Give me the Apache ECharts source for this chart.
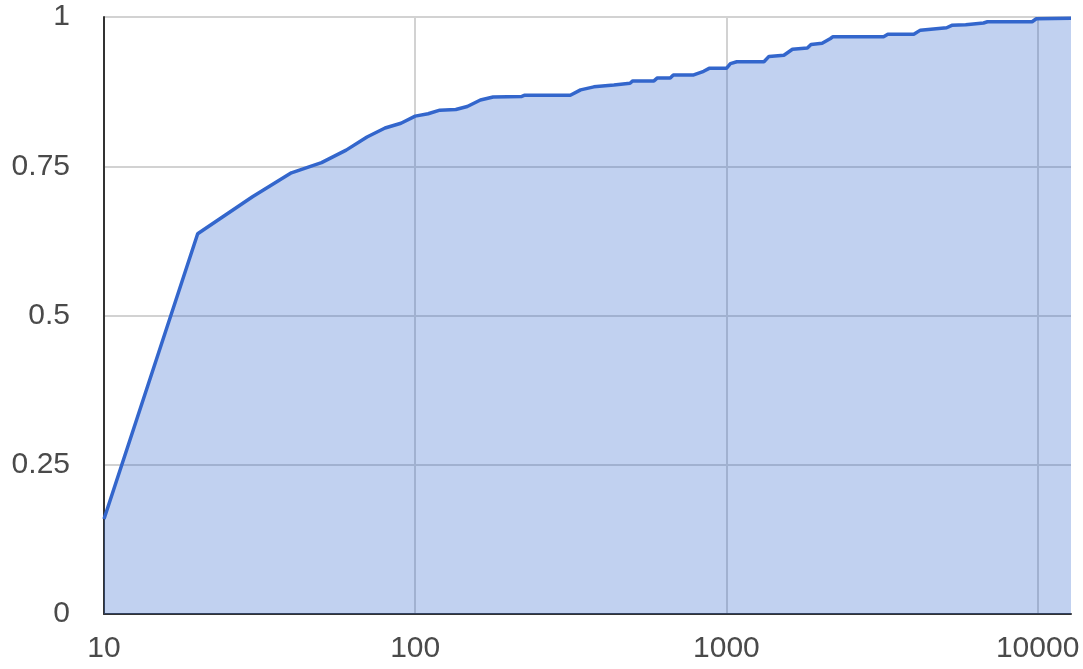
<!DOCTYPE html>
<html>
<head>
<meta charset="utf-8">
<script src="https://cdn.jsdelivr.net/npm/echarts@6/dist/echarts.min.js"></script>
<style>
  html, body { margin: 0; padding: 0; background: #fff; }
  #chart { width: 1083px; height: 669px; }
</style>
</head>
<body>
<div id="chart"></div>
<script>
// Data (cumulative share vs. value, log x)
var xValues = [10, 20, 30, 40, 50, 60, 70, 80, 90, 100,
  110, 120, 135, 147, 162, 178, 220, 225, 315, 340,
  375, 435, 490, 500, 585, 600, 660, 675, 785, 845,
  880, 1000, 1030, 1080, 1320, 1370, 1530, 1630, 1820, 1870,
  2030, 2160, 2200, 3200, 3300, 4000, 4200, 5100, 5300, 5870,
  5950, 6700, 6900, 9600, 9900, 12800];
var yValues = [0.159, 0.637, 0.699, 0.739, 0.756, 0.777, 0.799, 0.814, 0.822, 0.834,
  0.838, 0.844, 0.845, 0.850, 0.861, 0.866, 0.867, 0.869, 0.869, 0.878,
  0.883, 0.886, 0.889, 0.893, 0.893, 0.898, 0.898, 0.903, 0.903, 0.909,
  0.914, 0.914, 0.922, 0.925, 0.925, 0.934, 0.936, 0.946, 0.948, 0.954,
  0.956, 0.964, 0.967, 0.967, 0.971, 0.971, 0.978, 0.982, 0.986, 0.987,
  0.990, 0.990, 0.992, 0.992, 0.997, 0.998];
var xTickLabels = [10, 100, 1000, 10000];
var yTickLabels = [0, 0.25, 0.5, 0.75, 1];

var points = xValues.map(function (x, i) { return [x, yValues[i]]; });

var chart = echarts.init(document.getElementById('chart'), null, { renderer: 'canvas' });
var labelFont = { fontFamily: 'Liberation Sans, Arial, sans-serif', fontSize: 30, color: '#4a4a4a' };

chart.setOption({
  animation: false,
  backgroundColor: '#ffffff',
  grid: { left: 104, right: 12, top: 17, bottom: 55, containLabel: false },
  xAxis: {
    type: 'log',
    logBase: 10,
    min: 10,
    max: 12800,
    axisLine: { show: true, onZero: false, lineStyle: { color: '#333', width: 2 } },
    axisTick: { show: false },
    axisLabel: Object.assign({
      margin: 20,
      showMaxLabel: false,
      formatter: function (v) {
        var r = Math.round(v);
        return xTickLabels.indexOf(r) >= 0 ? String(r) : '';
      }
    }, labelFont),
    splitLine: { show: true, showMaxLine: false, lineStyle: { color: '#d2d2d2', width: 2 } }
  },
  yAxis: {
    type: 'value',
    min: 0,
    max: 1,
    interval: 0.25,
    axisLine: { show: true, lineStyle: { color: '#333', width: 2 } },
    axisTick: { show: false },
    axisLabel: Object.assign({
      margin: 34,
      formatter: function (v) {
        return yTickLabels.indexOf(v) >= 0 ? String(v) : '';
      }
    }, labelFont),
    splitLine: { show: true, lineStyle: { color: '#d2d2d2', width: 2 } }
  },
  series: [{
    type: 'line',
    data: points,
    showSymbol: false,
    smooth: false,
    lineStyle: { color: '#3366cc', width: 3.5 },
    itemStyle: { color: '#3366cc' },
    areaStyle: { color: 'rgba(51,102,204,0.3)', opacity: 1 },
    z: 2
  }]
});
</script>
</body>
</html>
